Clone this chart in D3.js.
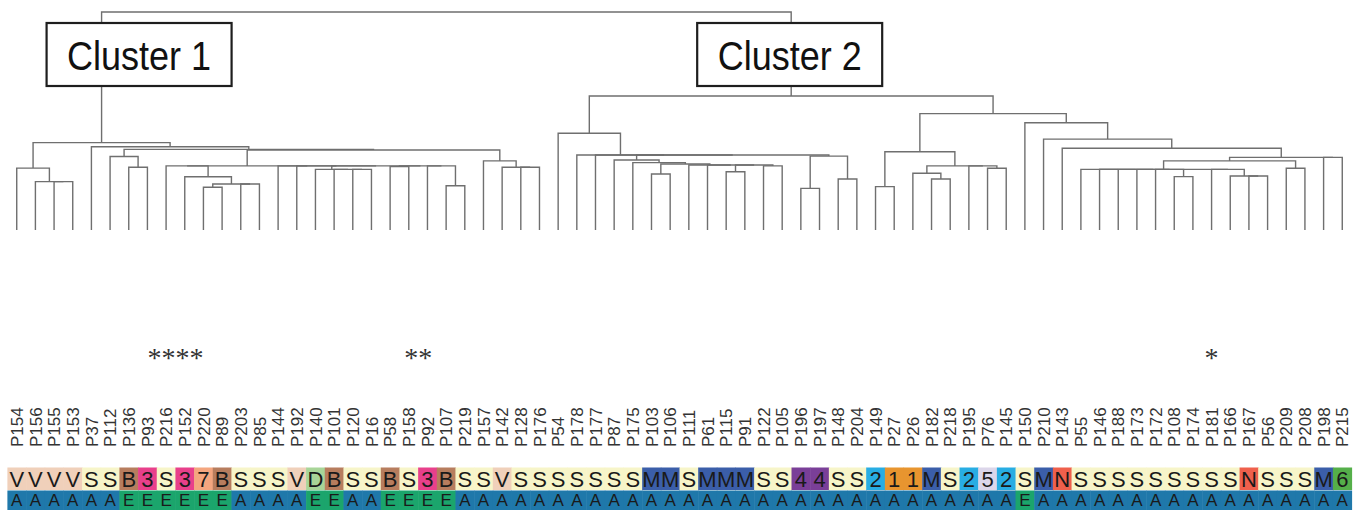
<!DOCTYPE html>
<html>
<head>
<meta charset="utf-8">
<script src="https://cdn.jsdelivr.net/npm/d3@7"></script>
<style>
  body { margin: 0; background: #fff; }
  svg { display: block; }
</style>
</head>
<body>
<svg id="chart" width="1361" height="510"></svg>
<script>
// leaf order of the dendrogram, left to right
const leafLabels = ["P154","P156","P155","P153","P37","P112","P136","P93","P216","P152","P220","P89",
  "P203","P85","P144","P192","P140","P101","P120","P16","P58","P158","P92","P107","P219","P157",
  "P142","P128","P176","P54","P178","P177","P87","P175","P103","P106","P111","P61","P115","P91",
  "P122","P105","P196","P197","P148","P204","P149","P27","P26","P182","P218","P195","P76","P145",
  "P150","P210","P143","P55","P146","P188","P173","P172","P108","P174","P181","P166","P167","P56",
  "P209","P208","P198","P215"];

// first annotation row (one code per leaf)
const typeCodes = "VVVVSSB3S37BSSSVDBSSBS3BSSVSSSSSSSMMSMMMSS44SS211MS252SMNSSSSSSSSSNSSSM6".split("");
// second annotation row
const groupCodes = ("AAAAAAEEEEEEAAAAEEAAEEEE" + "A".repeat(30) + "E" + "A".repeat(17)).split("");

// leaves marked with an asterisk
const markedLeaves = ["P93","P216","P152","P220","P158","P92","P181"];

const typeColors = {
  V: "#f0d0ba", S: "#f7f5c9", B: "#b77d5e", "3": "#e8408b", "7": "#f4a67f", D: "#a8d598",
  M: "#3b5ea9", "4": "#7a3f98", "2": "#28ade3", "1": "#e8952f", "5": "#dcd6ea", N: "#ef604c",
  "6": "#55af4a"
};
const groupColors = { A: "#1f78aa", E: "#1ba56c" };

const clusterNames = ["Cluster 1", "Cluster 2"];

// merge heights (distance, 0-100)
function m(h, a, b) {
  return { h, children: [a, b].map(c => typeof c === "string" ? { name: c, h: 0 } : c) };
}

const cluster1 = m(40.1,
  m(28.4, "P154", m(22.2, "P156", m(22.2, "P155", "P153"))),
  m(38.2, "P37",
    m(37.0,
      m(33.7, "P112", m(28.8, "P136", "P93")),
      m(36.7,
        m(29.4,
          m(29.4, "P216", m(24.4, "P152", m(21.1, m(19.6, "P220", "P89"), m(21.1, "P203", "P85")))),
          m(29.4, "P144", m(29.4, "P192",
            m(29.4, m(27.8, "P140", m(27.8, "P101", m(27.8, "P120", "P16"))),
              m(29.4, m(29.1, "P58", "P158"), m(29.4, "P92", m(20.3, "P107", "P219"))))))),
        m(31.7, "P157", m(28.8, "P142", m(28.8, "P128", "P176")))))));

const cluster2 = m(61.5,
  m(44.4, "P54",
    m(34.4, "P178", m(34.4, "P177", m(34.4,
      m(32.1, "P87", m(30.9, "P175", m(30.3, m(25.7, "P103", "P106"),
        m(29.8, "P111", m(29.8, "P61", m(29.8, m(26.7, "P115", "P91"), m(29.4, "P122", "P105"))))))),
      m(33.9, m(19.1, "P196", "P197"), m(23.4, "P148", "P204")))))),
  m(53.4,
    m(35.9, m(19.9, "P149", "P27"),
      m(29.4, m(26.0, "P26", m(23.4, "P182", "P218")), m(29.4, "P195", m(28.3, "P76", "P145")))),
    m(49.2, "P150", m(41.7, "P210", m(37.5, "P143", m(33.3,
      m(31.7,
        m(27.8,
          m(27.8, "P55", m(27.8, "P146", m(27.8, "P188", m(27.8, "P173", m(27.8, "P172", m(24.5, "P108", "P174")))))),
          m(27.8, "P181", m(24.8, "P166", m(24.8, "P167", "P56")))),
        m(28.3, "P209", "P208")),
      m(33.3, "P198", "P215")))))));

const treeData = m(100, cluster1, cluster2);

const svg = d3.select("#chart");

const x = d3.scaleBand().domain(leafLabels).range([7.4, 1351.6]).paddingInner(0);
const cx = name => x(name) + x.bandwidth() / 2;
const y = d3.scaleLinear().domain([0, 100]).range([230, 12]);

const root = d3.hierarchy(treeData);
root.eachAfter(d => {
  d.px = d.children ? d3.mean(d.children, c => c.px) : cx(d.data.name);
  d.py = y(d.data.h);
});

// dendrogram elbows
svg.append("g")
  .attr("fill", "none")
  .attr("stroke", "#6f6f6f")
  .attr("stroke-width", 1.4)
  .selectAll("path")
  .data(root.descendants().filter(d => d.children))
  .join("path")
  .attr("d", d => {
    const [a, b] = d.children;
    return `M${a.px},${a.py}V${d.py}H${b.px}V${b.py}`;
  });

// cluster boxes on the two main branches
const boxOffsets = [-55, -94];
const boxes = svg.append("g").selectAll("g")
  .data(root.children)
  .join("g")
  .attr("transform", (d, i) => `translate(${d.px + boxOffsets[i]},23)`);
boxes.append("rect")
  .attr("width", 185).attr("height", 63)
  .attr("fill", "#fff").attr("stroke", "#1e1e1e").attr("stroke-width", 2.2);
boxes.append("text")
  .attr("transform", "translate(92.5,47) scale(0.9,1)")
  .attr("text-anchor", "middle")
  .attr("font-family", "Liberation Sans, Arial, sans-serif")
  .attr("font-size", 40)
  .attr("fill", "#111")
  .text((d, i) => clusterNames[i]);

// asterisks: consecutive marked leaves grouped into one string
const starGroups = [];
leafLabels.forEach((name, i) => {
  if (!markedLeaves.includes(name)) return;
  const last = starGroups[starGroups.length - 1];
  if (last && last.end === i - 1) { last.names.push(name); last.end = i; }
  else starGroups.push({ names: [name], end: i });
});
svg.append("g").selectAll("text")
  .data(starGroups)
  .join("text")
  .attr("x", d => d3.mean(d.names, cx))
  .attr("y", 367)
  .attr("text-anchor", "middle")
  .attr("font-family", "Liberation Serif, Times New Roman, serif")
  .attr("font-size", 28)
  .attr("fill", "#333")
  .text(d => "*".repeat(d.names.length));

// rotated leaf labels, read bottom to top
svg.append("g").selectAll("text")
  .data(leafLabels)
  .join("text")
  .attr("transform", d => `translate(${cx(d)},447) rotate(-90)`)
  .attr("dy", "0.36em")
  .attr("text-anchor", "start")
  .attr("font-family", "Liberation Sans, Arial, sans-serif")
  .attr("font-size", 17)
  .attr("fill", "#333")
  .text(d => d);

// annotation rows
const rows = [
  { codes: typeCodes, colors: typeColors, top: 467.5, height: 22.5, base: 19.5, size: 22 },
  { codes: groupCodes, colors: groupColors, top: 490.5, height: 20, base: 15, size: 17 }
];
rows.forEach(row => {
  const g = svg.append("g");
  g.selectAll("rect")
    .data(leafLabels)
    .join("rect")
    .attr("x", d => x(d))
    .attr("y", row.top)
    .attr("width", x.bandwidth() + 0.5)
    .attr("height", row.height)
    .attr("fill", (d, i) => row.colors[row.codes[i]]);
  g.selectAll("text")
    .data(leafLabels)
    .join("text")
    .attr("x", d => cx(d))
    .attr("y", row.top + row.base)
    .attr("text-anchor", "middle")
    .attr("font-family", "Liberation Sans, Arial, sans-serif")
    .attr("font-size", row.size)
    .attr("fill", "#1a1a1a")
    .text((d, i) => row.codes[i]);
});
</script>
</body>
</html>
